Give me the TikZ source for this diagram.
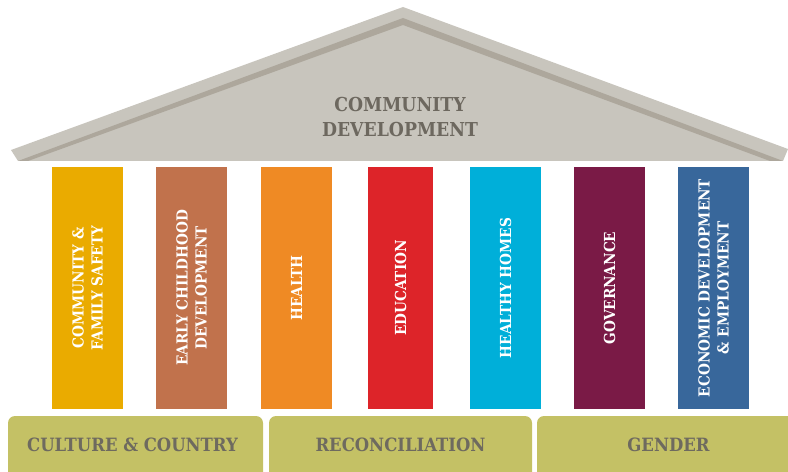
\documentclass[tikz,border=0pt]{standalone}
\usepackage{fontspec}
\setmainfont{DejaVu Serif Condensed}
\begin{document}
\begin{tikzpicture}[x=1bp,y=-1bp, line join=round, line cap=round,
		pillar/.style={rotate=90, inner sep=0pt, minimum width=242bp, text=white, align=center,
			font=\bfseries\fontsize{15.2bp}{19bp}\selectfont},
		plinth/.style={fill=baseolive, rounded corners=7bp},
		plinthtext/.style={text=basetext, font=\bfseries\fontsize{18.3bp}{20bp}\selectfont}]
	\definecolor{rooflight}{HTML}{C8C5BD}
	\definecolor{roofdark}{HTML}{ADA79C}
	\definecolor{rooftext}{HTML}{6D685F}
	\definecolor{baseolive}{HTML}{C4C165}
	\definecolor{basetext}{HTML}{6E6A5F}
	\clip (0,0) rectangle (788,472);
	% roof
	\fill[rooflight] (11,150)--(403,7)--(788,149)--(783,161)--(18,161)--cycle;
	\fill[roofdark] (18,161)--(403,18)--(783,161)--(770,161)--(403,25)--(28,161)--cycle;
	\node[text=rooftext, align=center, font=\bfseries\fontsize{19.2bp}{25bp}\selectfont] (roof) at (400,117.5) {COMMUNITY\\DEVELOPMENT};
	% pillars
	\foreach \x/\w/\clr/\nm/\txt in {
		87.5/71/EAAB00/safety/{COMMUNITY \&\\FAMILY SAFETY},
		191.5/71/C1724C/early/{EARLY CHILDHOOD\\DEVELOPMENT},
		296.5/71/EF8A24/health/{HEALTH},
		400.5/65/DD2429/education/{EDUCATION},
		505.5/71/00AFD9/homes/{HEALTHY HOMES},
		609.5/71/7A1A46/governance/{GOVERNANCE},
		713.5/71/38679B/economic/{ECONOMIC DEVELOPMENT\\\& EMPLOYMENT}}{
		\definecolor{pillarfill}{HTML}{\clr}
		\node[pillar, fill=pillarfill, minimum height=\w bp] (\nm) at (\x,288) {\txt};
	}
	% base
	\path[plinth] (8,416) rectangle (263,490);
	\path[plinth] (269,416) rectangle (532,490);
	\path[plinth] (537,416) rectangle (800,490);
	\node[plinthtext] (culture) at (132.5,445) {CULTURE \& COUNTRY};
	\node[plinthtext] (reconciliation) at (400.5,445) {RECONCILIATION};
	\node[plinthtext] (gender) at (668.5,445) {GENDER};
\end{tikzpicture}
\end{document}
